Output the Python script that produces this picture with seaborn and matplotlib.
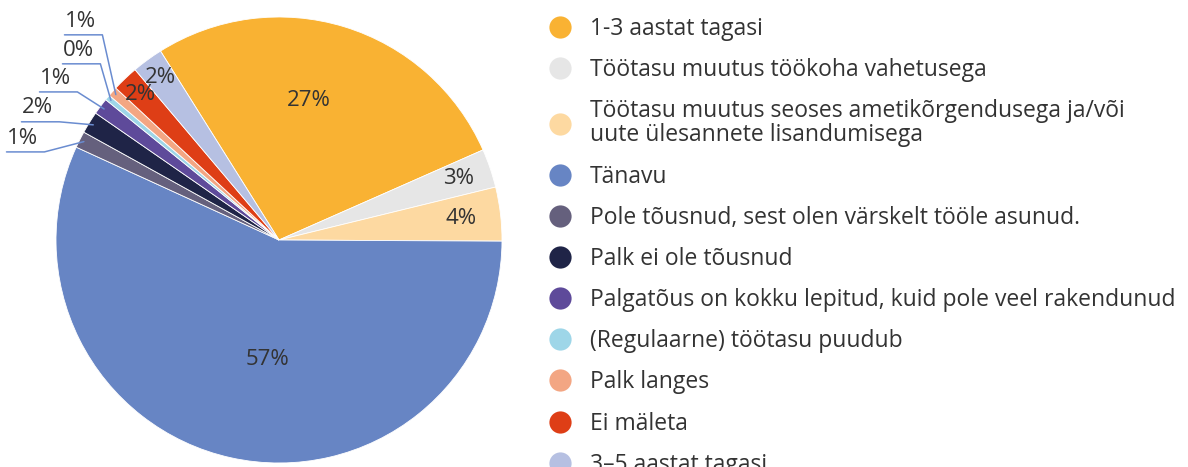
import matplotlib.pyplot as plt
from matplotlib.lines import Line2D
import numpy as np
import seaborn as sns

# data (shares in %)
categories = [
    "1-3 aastat tagasi",
    "Töötasu muutus töökoha vahetusega",
    "Töötasu muutus seoses ametikõrgendusega ja/või\nuute ülesannete lisandumisega",
    "Tänavu",
    "Pole tõusnud, sest olen värskelt tööle asunud.",
    "Palk ei ole tõusnud",
    "Palgatõus on kokku lepitud, kuid pole veel rakendunud",
    "(Regulaarne) töötasu puudub",
    "Palk langes",
    "Ei mäleta",
    "3–5 aastat tagasi",
]
shares = [27.3, 2.8, 3.9, 56.75, 1.2, 1.6, 1.2, 0.4, 0.7, 1.9, 2.25]
colors = ["#F9B233", "#E6E6E6", "#FDD9A1", "#6785C4", "#65607D", "#1F2447",
          "#5E4A9A", "#9ED6E8", "#F3A683", "#DE3E16", "#B6C0E2"]

# label placement (style): inside labels -> (radius, angle shift); outside -> text position
inside = {0: (0.64, 5.0), 1: (0.85, 0), 2: (0.82, 0), 3: (0.54, 7.0), 9: (0.90, 0), 10: (0.90, 0)}
outside = {4: (-1.152, 0.457), 5: (-1.085, 0.592), 6: (-1.004, 0.726),
           7: (-0.901, 0.852), 8: (-0.892, 0.982)}

sns.set_theme(style="white")
plt.rcParams["font.family"] = ["Open Sans", "DejaVu Sans"]
text_col = "#333333"
line_col = "#6A8CD0"

fig = plt.figure(figsize=(11.88, 4.67), dpi=100)
ax = fig.add_axes([56 / 1188, 4 / 467, 446 / 1188, 446 / 467])
wedges, _ = ax.pie(shares, colors=colors, startangle=122.1, counterclock=False,
                   wedgeprops=dict(edgecolor="white", linewidth=0.6))
ax.set_xlim(-1, 1)
ax.set_ylim(-1, 1)
ax.set_aspect("equal")
ax.axis("off")

for i, (w, v) in enumerate(zip(wedges, shares)):
    mid = np.deg2rad((w.theta1 + w.theta2) / 2)
    lab = f"{round(v):.0f}%"
    if i in inside:
        r, shift = inside[i]
        a = mid + np.deg2rad(shift)
        ax.text(r * np.cos(a), r * np.sin(a), lab, ha="center", va="center",
                fontsize=16, color=text_col)
    else:
        tx, ty = outside[i]
        ax.text(tx, ty, lab, ha="center", va="center", fontsize=16, color=text_col, clip_on=False)
        ly = ty - 0.062
        ex, ey = 0.98 * np.cos(mid), 0.98 * np.sin(mid)
        ax.plot([tx - 0.07, tx + 0.1, ex], [ly, ly, ey], color=line_col, lw=1.1, clip_on=False)

handles = [Line2D([], [], marker="o", linestyle="none", markerfacecolor=c,
                  markeredgecolor="none", markersize=16) for c in colors]
leg = fig.legend(handles, categories, loc="upper left", bbox_to_anchor=(548.5 / 1188, 1 - 17 / 467),
                 frameon=False, fontsize=16.5, labelspacing=0.75, handlelength=1.0,
                 handletextpad=0.81, borderpad=0, borderaxespad=0)
for t in leg.get_texts():
    t.set_color(text_col)
    t.set_linespacing(1.0)

fig.savefig("out.png", dpi=100)
